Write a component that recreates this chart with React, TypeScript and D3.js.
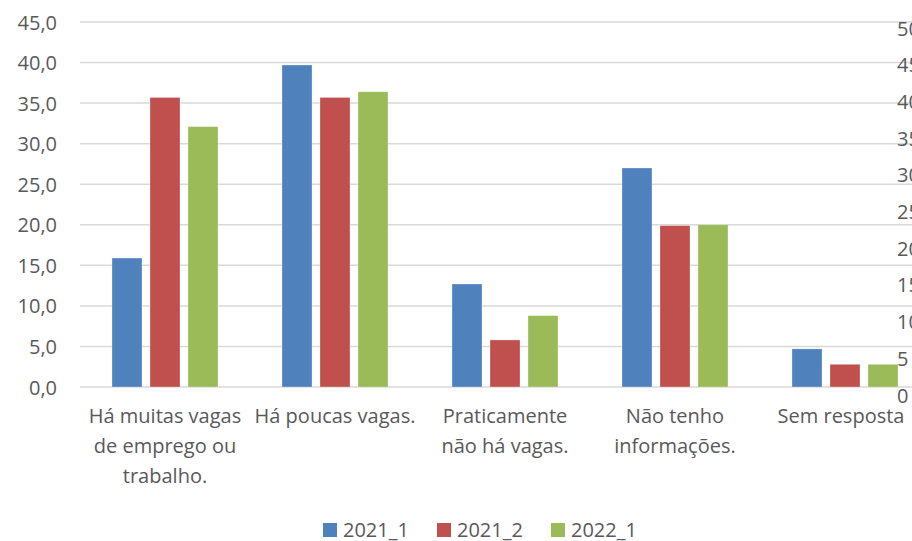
import React from "react";
import * as d3 from "d3";

const categories = [
  "Há muitas vagas de emprego ou trabalho.",
  "Há poucas vagas.",
  "Praticamente não há vagas.",
  "Não tenho informações.",
  "Sem resposta",
];
const categoryLines = [
  ["Há muitas vagas", "de emprego ou", "trabalho."],
  ["Há poucas vagas."],
  ["Praticamente", "não há vagas."],
  ["Não tenho", "informações."],
  ["Sem resposta"],
];
const seriesNames = ["2021_1", "2021_2", "2022_1"];
const v2021_1 = [15.9, 39.7, 12.7, 27.0, 4.7];
const v2021_2 = [35.7, 35.7, 5.8, 19.9, 2.8];
const v2022_1 = [32.1, 36.4, 8.8, 20.0, 2.8];
const seriesValues = [v2021_1, v2021_2, v2022_1];
const colors = ["#4F81BD", "#C0504D", "#9BBB59"];
const leftTicks = [0, 5, 10, 15, 20, 25, 30, 35, 40, 45];
const rightTicks = [0, 5, 10, 15, 20, 25, 30, 35, 40, 45, 50];

const W = 912;
const H = 541;
const FONT = "'Open Sans', sans-serif";
const TEXT = "#595959";

export default function App() {
  const x = d3.scaleBand<string>().domain(categories).range([80, 930]);
  const x1 = d3
    .scaleBand<string>()
    .domain(seriesNames)
    .range([32, 138])
    .paddingInner(8 / 38)
    .paddingOuter(0);
  const y = d3.scaleLinear().domain([0, 45]).range([387, 22]);
  const yR = d3.scaleLinear().domain([0, 50]).range([395, 28]);
  const fmt = (v: number) => v.toFixed(1).replace(".", ",");

  return (
    <svg
      width={W}
      height={H}
      style={{ position: "absolute", left: 0, top: 0, background: "#fff" }}
      fontFamily={FONT}
    >
      {leftTicks.map((t) => (
        <line
          key={"g" + t}
          x1={80}
          x2={W}
          y1={y(t)}
          y2={y(t)}
          stroke="#D9D9D9"
          strokeWidth={1.5}
        />
      ))}
      {leftTicks.map((t) => (
        <text
          key={"l" + t}
          x={57}
          y={y(t)}
          textAnchor="end"
          dominantBaseline="central"
          fontSize={20}
          fill={TEXT}
        >
          {fmt(t)}
        </text>
      ))}
      {rightTicks.map((t) => (
        <text
          key={"r" + t}
          x={897}
          y={yR(t)}
          textAnchor="start"
          dominantBaseline="central"
          fontSize={20}
          fill={TEXT}
        >
          {t}
        </text>
      ))}
      {categories.map((c, ci) => (
        <g key={c} transform={`translate(${x(c)},0)`}>
          {seriesNames.map((s, si) => {
            const v = seriesValues[si][ci];
            return (
              <rect
                key={s}
                x={x1(s)}
                y={y(v)}
                width={x1.bandwidth()}
                height={y(0) - y(v)}
                fill={colors[si]}
                stroke="#ffffff"
                strokeOpacity={0.4}
                strokeWidth={0.75}
              />
            );
          })}
        </g>
      ))}
      {categories.map((c, ci) => (
        <text
          key={"x" + c}
          x={(x(c) as number) + x.bandwidth() / 2 - (ci === 4 ? 4 : 0)}
          textAnchor="middle"
          fontSize={20}
          fill={TEXT}
        >
          {categoryLines[ci].map((ln, li) => (
            <tspan key={li} x={(x(c) as number) + x.bandwidth() / 2 - (ci === 4 ? 4 : 0)} y={423 + li * 30}>
              {ln}
            </tspan>
          ))}
        </text>
      ))}
      {seriesNames.map((s, si) => (
        <g key={"lg" + s} transform={`translate(${323 + si * 114},0)`}>
          <rect x={0} y={523} width={14} height={14} fill={colors[si]} />
          <text x={20} y={537} fontSize={20} fill={TEXT}>
            {s}
          </text>
        </g>
      ))}
    </svg>
  );
}
